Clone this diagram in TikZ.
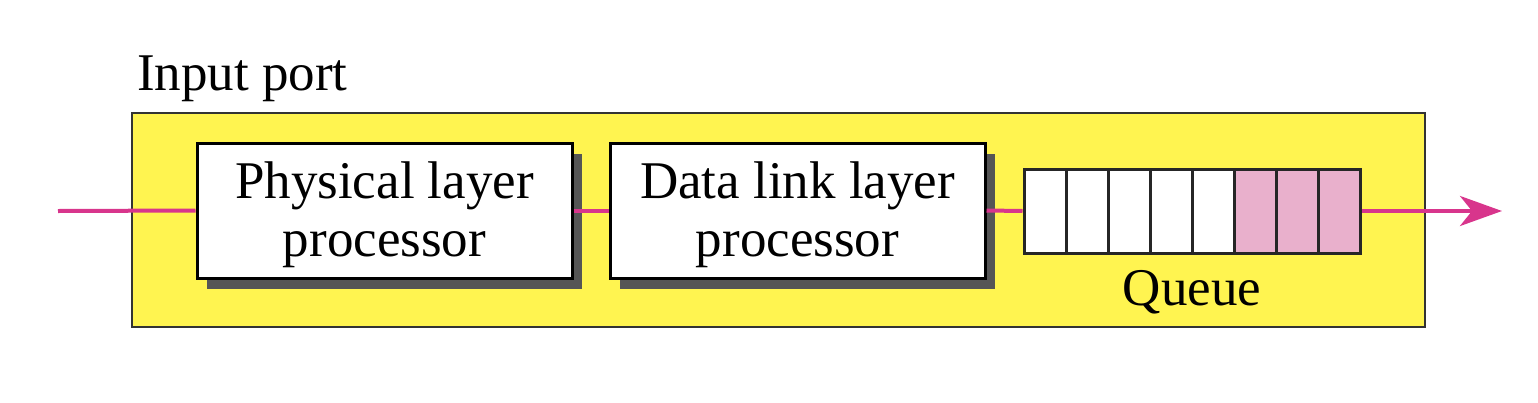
\documentclass[tikz,border=0pt]{standalone}
\usepackage{fontspec}
\setmainfont{Liberation Serif}
\usetikzlibrary{arrows.meta,shadows}
\definecolor{portyellow}{HTML}{FFF450}
\definecolor{flowmag}{HTML}{D8358C}
\definecolor{cellpink}{HTML}{E9B0CC}
\definecolor{shadowgray}{HTML}{555555}
\begin{document}
\begin{tikzpicture}[x=1pt,y=-1pt,
  proc/.style={draw=black,line width=3pt,fill=white,minimum width=375pt,minimum height=135pt,
    align=center,inner sep=0pt,font=\fontsize{53}{58}\selectfont,
    drop shadow={shadow xshift=10pt,shadow yshift=-11pt,fill=shadowgray,opacity=1}},
  cell/.style={draw=black!85,line width=3pt,minimum width=42pt,minimum height=84pt,inner sep=0pt},
  lbl/.style={font=\fontsize{53}{58}\selectfont,inner sep=0pt},
  flow/.style={draw=flowmag,line width=4pt}]
\useasboundingbox (0,0) rectangle (1538,402);
\node[draw=black!80,line width=2.5pt,fill=portyellow,minimum width=1293pt,minimum height=214pt,inner sep=0pt] (port) at (778.5,220) {};
\node[lbl,anchor=base west] (title) at (137,90) {Input port};
\coordinate (in) at (58,211);
\coordinate (out) at (1502,211);
\node[proc] (phy) at (384.5,210.5) {};
\node[proc] (dll) at (797.5,210.5) {};
\node[lbl,align=center] (phyt) at (384.5,215) {Physical layer\\processor};
\node[lbl,align=center] (dllt) at (797.5,215) {Data link layer\\processor};
\foreach \i in {1,...,8}{
  \pgfmathsetmacro{\cx}{1024+42*(\i-1)+21}
  \ifnum\i>5
    \node[cell,fill=cellpink] (q\i) at (\cx,211) {};
  \else
    \node[cell,fill=white] (q\i) at (\cx,211) {};
  \fi
}
\node[lbl,anchor=base] (qlabel) at (1192,305) {Queue};
\draw[flow] (in) -- (phy.west);
\draw[flow] (phy.east) -- (dll.west);
\draw[flow] (dll.east) -- (q1.west);
\draw[flow,-{Stealth[length=42pt,width=30pt,inset=12pt]}] (q8.east) -- (out);
\end{tikzpicture}
\end{document}
